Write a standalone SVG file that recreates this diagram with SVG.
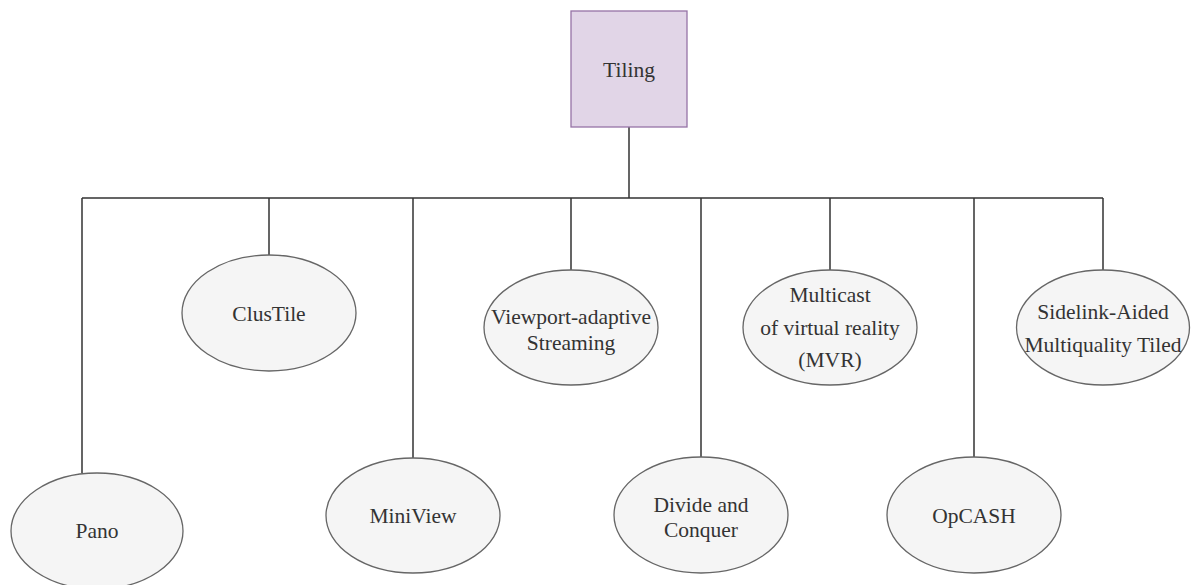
<svg xmlns="http://www.w3.org/2000/svg" width="1192" height="585" viewBox="0 0 1192 585">
<style>
.e{fill:#f5f5f5;stroke:#666;stroke-width:1.3}
.t{font-family:'Liberation Serif','Times New Roman',serif;font-size:21.5px;fill:#333;text-anchor:middle}
.c{fill:none;stroke:#333;stroke-width:1.5}
</style>
<rect width="1192" height="585" fill="#fff"/>
<g id="connectors">
<path class="c" d="M629 127V198M82 198H1103M82 198V473M269 198V255M413 198V458M571 198V270M701 198V457M830 198V270M974 198V457M1103 198V270"/>
</g>
<g id="tiling">
<rect x="571" y="11" width="116" height="116" fill="#e1d5e7" stroke="#9673a6" stroke-width="1.3"/>
<text class="t" x="629" y="77">Tiling</text>
</g>
<g id="pano">
<ellipse class="e" cx="97" cy="531" rx="86" ry="58"/>
<text class="t" x="97" y="538">Pano</text>
</g>
<g id="clustile">
<ellipse class="e" cx="269" cy="313" rx="87" ry="58"/>
<text class="t" x="269" y="321">ClusTile</text>
</g>
<g id="miniview">
<ellipse class="e" cx="413" cy="515.5" rx="87" ry="57.5"/>
<text class="t" x="413" y="523">MiniView</text>
</g>
<g id="viewport">
<ellipse class="e" cx="571" cy="327.5" rx="87" ry="57.5"/>
<text class="t" x="571" y="324">Viewport-adaptive</text>
<text class="t" x="571" y="350">Streaming</text>
</g>
<g id="divide">
<ellipse class="e" cx="701" cy="515" rx="87" ry="58"/>
<text class="t" x="701" y="512">Divide and</text>
<text class="t" x="701" y="537">Conquer</text>
</g>
<g id="mvr">
<ellipse class="e" cx="830" cy="327.5" rx="87" ry="57.5"/>
<text class="t" x="830" y="302">Multicast</text>
<text class="t" x="830" y="335">of virtual reality</text>
<text class="t" x="830" y="367">(MVR)</text>
</g>
<g id="opcash">
<ellipse class="e" cx="974" cy="515" rx="87" ry="58"/>
<text class="t" x="974" y="523">OpCASH</text>
</g>
<g id="sidelink">
<ellipse class="e" cx="1103" cy="327.5" rx="86.5" ry="57.5"/>
<text class="t" x="1103" y="319">Sidelink-Aided</text>
<text class="t" x="1103" y="352">Multiquality Tiled</text>
</g>
</svg>
